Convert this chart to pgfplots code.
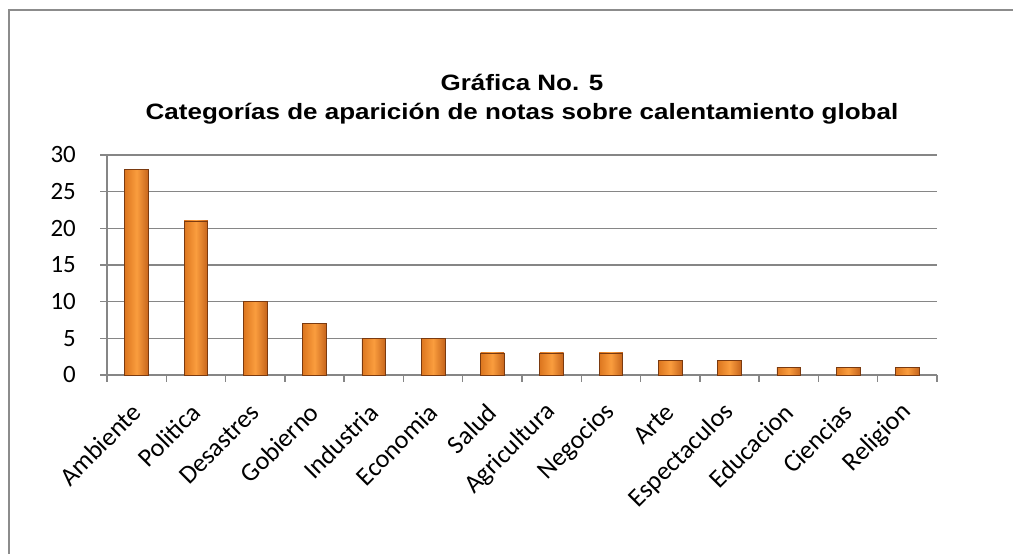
\documentclass[border=0pt]{standalone}
\usepackage{fontspec}
\setmainfont{Carlito}
\newfontfamily\titlefont{Liberation Sans}[FakeStretch=1.17]
\usepackage{pgfplots}
\pgfplotsset{compat=1.18}
\definecolor{gridgray}{HTML}{868686}
\definecolor{framegray}{HTML}{8C8C8C}
\definecolor{barL}{HTML}{DC761F}
\definecolor{barM}{HTML}{FA9D3E}
\definecolor{barR}{HTML}{C6641B}
\definecolor{barE}{HTML}{7A3A10}
\pgfplotsset{mybar/.style={ybar, bar width=0.4, bar shift=0pt, draw=barE, line width=0.6bp,
  left color=barL, right color=barR, middle color=barM}}
\begin{document}
\begin{tikzpicture}[x=1bp,y=1bp]
\path[use as bounding box] (0,0) rectangle (1013,554);
\draw[framegray, line width=1.5bp] (9,0) -- (9,544) -- (1013,544);
\begin{axis}[
  at={(107bp,179bp)}, anchor=south west,
  scale only axis, width=830bp, height=220bp,
  xmin=-0.5, xmax=13.5, ymin=0, ymax=30, clip=false,
  axis x line*=bottom, axis y line*=left,
  axis line style={gridgray, line width=1.5bp},
  ymajorgrids, grid style={gridgray, line width=1.5bp},
  tick style={gridgray, line width=1.5bp},
  tick align=outside, major tick length=7bp,
  ytick={0,5,...,30},
  xtick={-0.5,0.5,...,13.5}, xticklabels={},
  extra x ticks={0,1,2,3,4,5,6,7,8,9,10,11,12,13},
  extra x tick labels={Ambiente,Politica,Desastres,Gobierno,Industria,Economia,Salud,Agricultura,Negocios,Arte,Espectaculos,Educacion,Ciencias,Religion},
  extra x tick style={major tick length=0pt},
  /pgf/number format/assume math mode=true,
  yticklabel style={font=\fontsize{25}{30}\selectfont, anchor=east, inner sep=0pt, xshift=-24bp},
  xticklabel style={font=\fontsize{26}{30}\selectfont, xshift=0bp, yshift=-33bp, rotate=45, anchor=east, inner sep=0pt},
  title={Gráfica No. 5},
  title style={at={(0.5,1)}, anchor=base, yshift=59bp,
    font=\titlefont\bfseries\fontsize{22.3}{27}\selectfont, inner sep=0pt},
]
\addplot[mybar] coordinates {(0,28)};
\addplot[mybar] coordinates {(1,21)};
\addplot[mybar] coordinates {(2,10)};
\addplot[mybar] coordinates {(3,7)};
\addplot[mybar] coordinates {(4,5)};
\addplot[mybar] coordinates {(5,5)};
\addplot[mybar] coordinates {(6,3)};
\addplot[mybar] coordinates {(7,3)};
\addplot[mybar] coordinates {(8,3)};
\addplot[mybar] coordinates {(9,2)};
\addplot[mybar] coordinates {(10,2)};
\addplot[mybar] coordinates {(11,1)};
\addplot[mybar] coordinates {(12,1)};
\addplot[mybar] coordinates {(13,1)};
\node[anchor=base, inner sep=0pt, yshift=35bp, font=\titlefont\bfseries\fontsize{22.3}{27}\selectfont]
  at (rel axis cs:0.5,1) {Categorías de aparición de notas sobre calentamiento global};
\end{axis}
\end{tikzpicture}
\end{document}
